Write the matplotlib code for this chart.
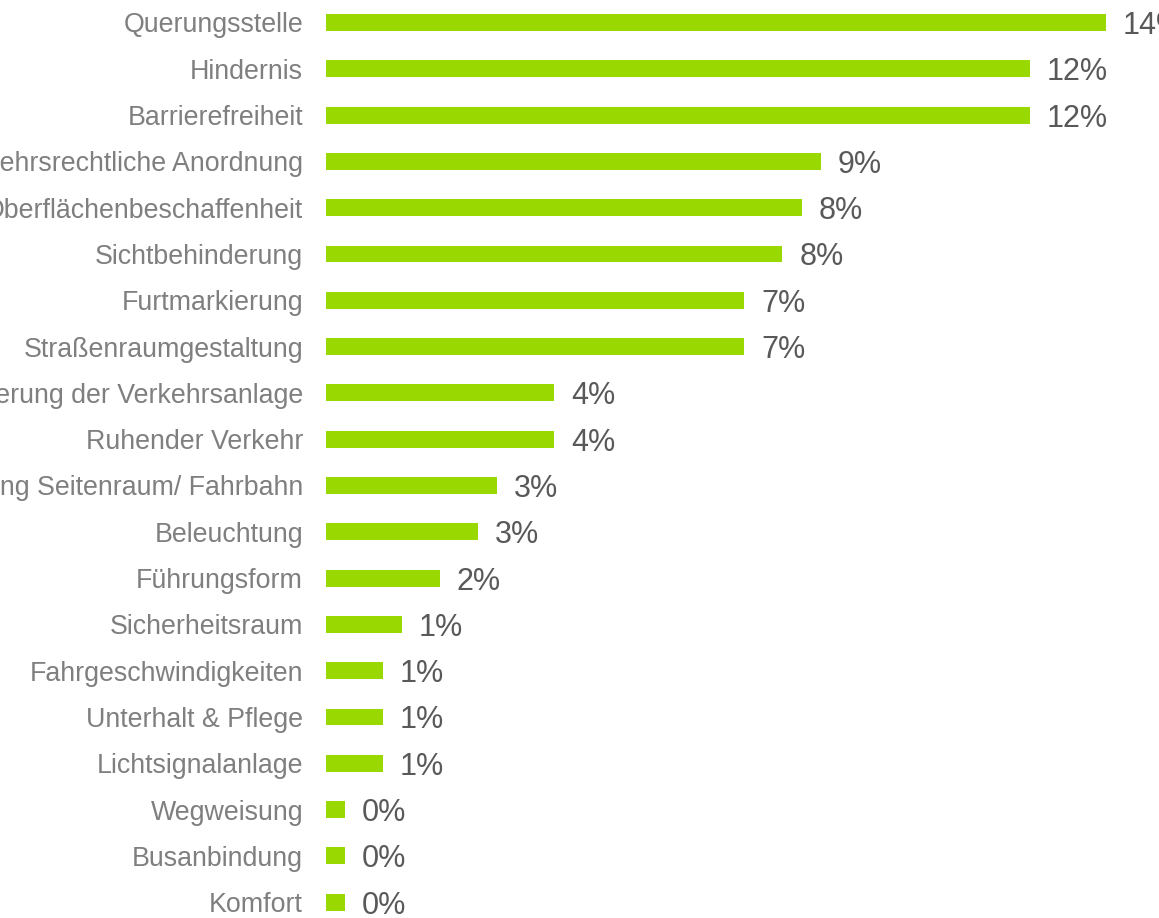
import matplotlib
matplotlib.use("Agg")
import matplotlib.pyplot as plt

# Anzahl der Nennungen je Kategorie (Prozentwerte werden daraus berechnet)
categories = [
    "Querungsstelle",
    "Hindernis",
    "Barrierefreiheit",
    "Verkehrsrechtliche Anordnung",
    "Oberflächenbeschaffenheit",
    "Sichtbehinderung",
    "Furtmarkierung",
    "Straßenraumgestaltung",
    "Dimensionierung der Verkehrsanlage",
    "Ruhender Verkehr",
    "Trennung Seitenraum/ Fahrbahn",
    "Beleuchtung",
    "Führungsform",
    "Sicherheitsraum",
    "Fahrgeschwindigkeiten",
    "Unterhalt & Pflege",
    "Lichtsignalanlage",
    "Wegweisung",
    "Busanbindung",
    "Komfort",
]
counts = [41, 37, 37, 26, 25, 24, 22, 22, 12, 12, 9, 8, 6, 4, 3, 3, 3, 1, 1, 1]

total = sum(counts)
percent_labels = [f"{round(c / total * 100):.0f}%" for c in counts]

plt.rcParams['font.family'] = ['Liberation Sans', 'DejaVu Sans']

W, H = 1159, 918
fig = plt.figure(figsize=(W / 100, H / 100), dpi=100)

# axes placement in pixels
left_px = 326
px_per_unit = 19.02
top_center = 22.5
step = 46.3
ax_top = top_center - step / 2
ax_bottom = top_center + step * (len(categories) - 1) + step / 2
ax = fig.add_axes([left_px / W, (H - ax_bottom) / H,
                   (W - left_px) / W, (ax_bottom - ax_top) / H])

y = list(range(len(categories)))
bars = ax.barh(y, counts, height=0.367, color='#99D800')

ax.set_xlim(0, (W - left_px) / px_per_unit)
ax.set_ylim(len(categories) - 0.5, -0.5)

for bar, lab in zip(bars, percent_labels):
    ax.annotate(lab, (bar.get_width(), bar.get_y() + bar.get_height() / 2),
                xytext=(12, 0), textcoords='offset points',
                ha='left', va='center_baseline', fontsize=22, color='#595959',
                annotation_clip=False)

ax.set_yticks(y)
ax.set_yticklabels(categories, fontsize=19.3, color='#7f7f7f')
ax.tick_params(axis='y', length=0, pad=16.5)
ax.set_xticks([])
for s in ax.spines.values():
    s.set_visible(False)

fig.savefig('out.png', dpi=100)
